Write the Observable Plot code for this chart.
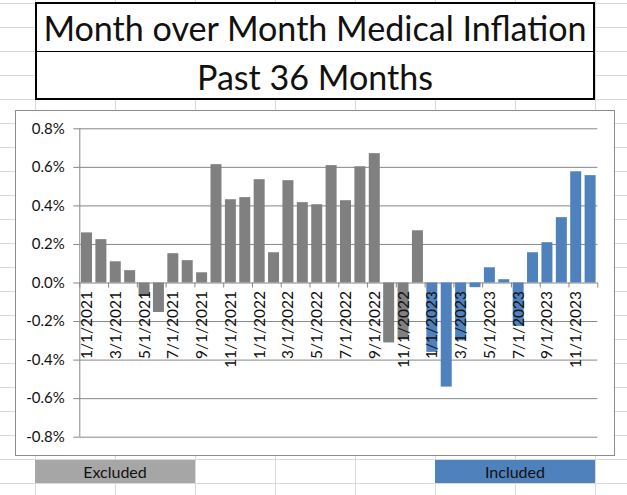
<!DOCTYPE html>
<html>
<head>
<meta charset="utf-8">
<script src="https://cdn.jsdelivr.net/npm/d3@7"></script>
<script src="https://cdn.jsdelivr.net/npm/@observablehq/plot@0.6"></script>
<style>
html, body { margin: 0; padding: 0; }
body {
  width: 627px; height: 495px; position: relative; overflow: hidden;
  background-color: #fff;
  background-image: linear-gradient(to right, #dadada 1px, transparent 1px),
                    linear-gradient(to bottom, #dadada 1px, transparent 1px);
  background-size: 80px 495px, 627px 24px;
  background-position: 35px 0, 0 3px;
  font-family: Lato, sans-serif;
  color: #111;
}
#title {
  position: absolute; left: 35px; top: 2px; width: 556px; height: 94px;
  border: 2px solid #000; background: #fff;
}
#title .r1 { height: 47px; line-height: 47px; border-bottom: 1px solid #000; text-align: center; white-space: nowrap; }
#title .r2 { height: 46px; line-height: 46px; text-align: center; white-space: nowrap; position: relative; top: 2px; }
#frame {
  position: absolute; left: 15px; top: 110px; width: 598px; height: 344px;
  border: 1px solid #8c8c8c; background: #fff;
}
.cell {
  position: absolute; top: 460px; height: 23px; line-height: 24px; width: 160px;
  text-align: center; font-size: 16px; color: #111;
}
</style>
</head>
<body>
<div id="title"><div class="r1" id="t1"></div><div class="r2" id="t2"></div></div>
<div id="frame"></div>
<div id="chart"></div>
<script>
// ---- data ----
const titleLines = ["Month over Month Medical Inflation", "Past 36 Months"];

const excludedMonths = [
  "1/1/2021","2/1/2021","3/1/2021","4/1/2021","5/1/2021","6/1/2021",
  "7/1/2021","8/1/2021","9/1/2021","10/1/2021","11/1/2021","12/1/2021",
  "1/1/2022","2/1/2022","3/1/2022","4/1/2022","5/1/2022","6/1/2022",
  "7/1/2022","8/1/2022","9/1/2022","10/1/2022","11/1/2022","12/1/2022"
];
const excludedValues = [
  0.26, 0.225, 0.11, 0.064, -0.07, -0.153, 0.152, 0.116, 0.053, 0.614, 0.432, 0.443,
  0.536, 0.157, 0.531, 0.417, 0.406, 0.609, 0.427, 0.603, 0.671, -0.311, -0.295, 0.271
];
const includedMonths = [
  "1/1/2023","2/1/2023","3/1/2023","4/1/2023","5/1/2023","6/1/2023",
  "7/1/2023","8/1/2023","9/1/2023","10/1/2023","11/1/2023","12/1/2023"
];
const includedValues = [
  -0.36, -0.54, -0.30, -0.024, 0.079, 0.017, -0.225, 0.157, 0.209, 0.339, 0.577, 0.557
];
const groups = ["Excluded", "Included"];
const barColors = ["#808080", "#4f81bd"];
const legendColors = ["#a6a6a6", "#4f81bd"];
const yTicks = [-0.8, -0.6, -0.4, -0.2, 0, 0.2, 0.4, 0.6, 0.8];

// ---- build table ----
const rows = [
  ...excludedMonths.map((m, k) => ({month: m, value: excludedValues[k], group: groups[0]})),
  ...includedMonths.map((m, k) => ({month: m, value: includedValues[k], group: groups[1]}))
].map((d, i) => ({...d, i}));
const labelRows = rows.filter(d => d.i % 2 === 0);
const boundaries = labelRows.map(d => d.i).concat([rows.length]);

// ---- title (fit width like the merged cells) ----
const cv = document.createElement("canvas").getContext("2d");
cv.font = "100px Lato";
const w1 = cv.measureText(titleLines[0]).width;
const titleSize = 100 * 544 / w1;
const t1 = document.getElementById("t1"), t2 = document.getElementById("t2");
t1.textContent = titleLines[0]; t2.textContent = titleLines[1];
t1.style.fontSize = titleSize + "px"; t2.style.fontSize = titleSize + "px";

// ---- legend cells ----
const cellLeft = [35, 435];
groups.forEach((g, k) => {
  const c = document.createElement("div");
  c.className = "cell";
  c.style.left = cellLeft[k] + "px";
  c.style.background = legendColors[k];
  c.textContent = g;
  document.body.appendChild(c);
});

// ---- chart ----
const axisColor = "#868686";
const chart = Plot.plot({
  width: 627, height: 495,
  marginLeft: 79.3, marginRight: 29.7, marginTop: 128.3, marginBottom: 58.3,
  x: {domain: [0, rows.length], axis: null},
  y: {domain: [-0.8, 0.8], axis: null},
  color: {domain: groups, range: barColors},
  style: "background:transparent;position:absolute;left:0;top:0;font-family:Lato,sans-serif;font-size:15px;color:#111;overflow:visible;max-width:none;",
  marks: [
    Plot.ruleY(yTicks, {stroke: axisColor, strokeWidth: 1}),
    Plot.rectY(rows, {x1: "i", x2: d => d.i + 1, y1: 0, y2: "value", fill: "group", insetLeft: 1.7, insetRight: 1.7}),
    Plot.ruleX([0], {y1: -0.8, y2: 0.8, stroke: axisColor}),
    Plot.ruleY(yTicks, {x1: 0, x2: 0, insetLeft: -6, stroke: axisColor}),
    Plot.ruleX(boundaries, {y1: 0, y2: 0, insetBottom: -5, stroke: axisColor}),
    Plot.text(yTicks, {x: 0, y: d => d, text: d => d.toFixed(1) + "%", textAnchor: "end", dx: -15, fontSize: 15, fill: "#111"}),
    Plot.text(labelRows, {x: d => d.i + 0.5, y: 0, text: "month", rotate: -90, textAnchor: "end", dy: 8, fontSize: 15.5, fill: "#111"})
  ]
});
document.getElementById("chart").appendChild(chart);
</script>
</body>
</html>
